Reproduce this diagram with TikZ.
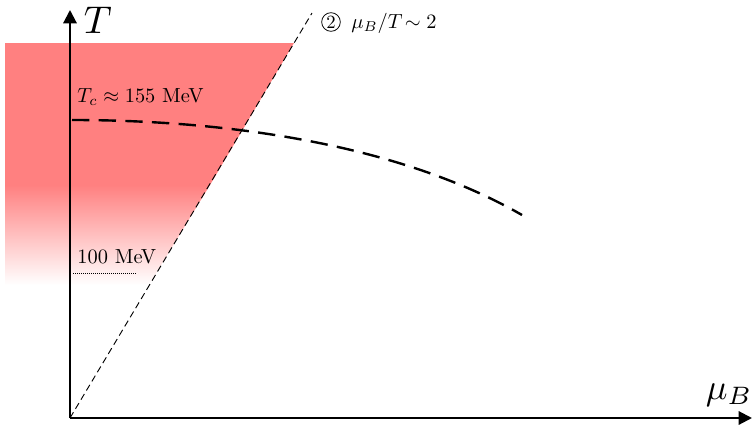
\documentclass[tikz,border=0pt]{standalone}
\usepackage{fontspec}
\usetikzlibrary{arrows.meta,positioning,calc}
\definecolor{hotred}{HTML}{FF8080}
\tikzset{
  axisline/.style={-{Triangle[length=10pt,width=10pt]}, line width=1.6pt, color=black},
  boundary/.style={line width=0.7pt, dash pattern=on 5pt off 3pt},
  crossover/.style={line width=1.8pt, dash pattern=on 13pt off 7pt},
  marklabel/.style={scale=1.53, anchor=base west, inner sep=0pt},
  axislabel/.style={scale=#1, inner sep=0pt},
  axislabel/.default=2.9,
  circnum/.style={circle, draw, line width=0.6pt, inner sep=0pt, minimum size=10pt, scale=1.4},
}
\begin{document}
\begin{tikzpicture}[x=0.75pt, y=-0.75pt]
\useasboundingbox (0,0) rectangle (754,429);
% hot region
\fill[hotred] (5,43) -- (294,43) -- (210,185) -- (5,185) -- cycle;
\shade[top color=hotred, bottom color=white] (5,185) -- (210,185) -- (149,285) -- (5,285) -- cycle;
% axes
\coordinate (O) at (70,418);
\coordinate (Ttip) at (70,10);
\coordinate (Mtip) at (752,418);
\draw[axisline] (O) -- (Ttip);
\draw[axisline] (O) -- (Mtip);
\node[axislabel, anchor=base west] (Tlab) at (83,33) {$T$};
\node[axislabel=2.7, anchor=south east] (mulab) at (753,407) {$\mu_B$};
% mu_B/T line
\coordinate (ltop) at (312,13);
\draw[boundary] (O) -- (ltop);
\node[circnum] (two) at (331,22) {2};
\node[marklabel] (ratio) at (351,28) {$\mu_B/T\!\sim 2$};
% crossover
\draw[crossover] (72,120) .. controls (230,120) and (400,145) .. (522,215);
\node[marklabel] (tc) at (77,102) {$T_c\approx 155$ MeV};
% 100 MeV
\node[marklabel] (hundred) at (77,263) {100 MeV};
\coordinate (d1) at (73,273);
\coordinate (d2) at (136,273);
\draw[densely dotted, line width=0.5pt] (d1) -- (d2);
\end{tikzpicture}
\end{document}
